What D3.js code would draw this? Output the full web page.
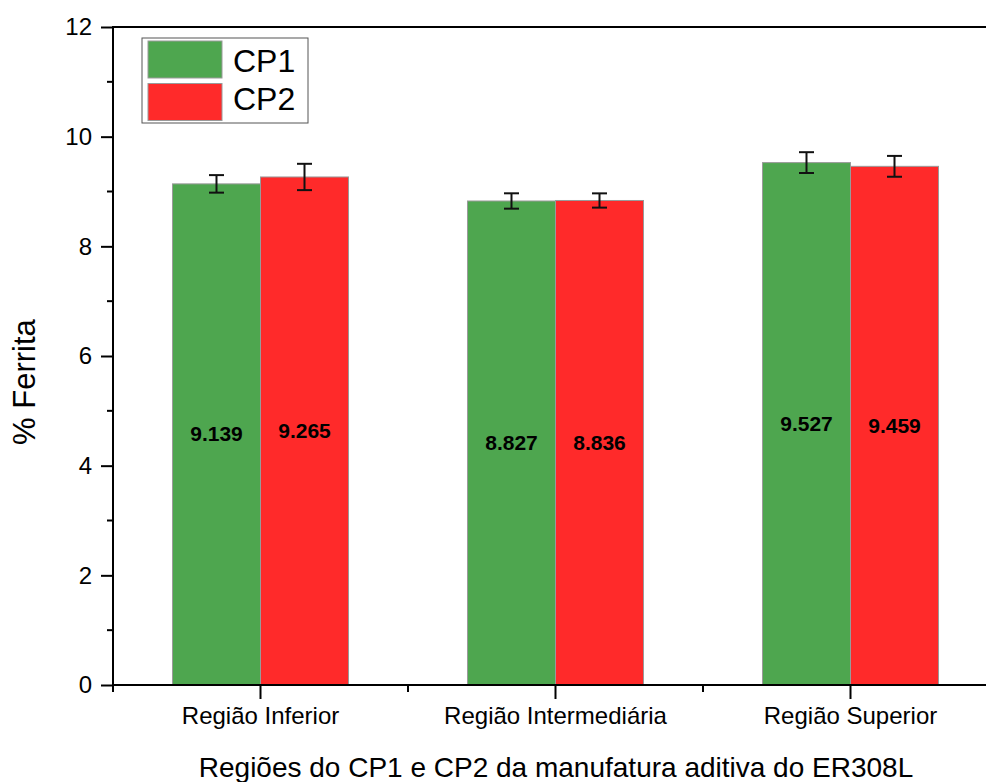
<!DOCTYPE html>
<html>
<head>
<meta charset="utf-8">
<script src="https://cdn.jsdelivr.net/npm/d3@7"></script>
<style>
  body { margin: 0; background: #fff; }
  svg { display: block; font-family: Arial, "Liberation Sans", sans-serif; }
</style>
</head>
<body>
<div id="chart"></div>
<script>
// data
var categories = ["Região Inferior", "Região Intermediária", "Região Superior"];
var series = ["CP1", "CP2"];
var cp1Values = [9.139, 8.827, 9.527];
var cp2Values = [9.265, 8.836, 9.459];
var cp1Errors = [0.16, 0.14, 0.19];
var cp2Errors = [0.24, 0.13, 0.19];
var yTicks = [0, 2, 4, 6, 8, 10, 12];
var yMinorTicks = [1, 3, 5, 7, 9, 11];
var colors = { CP1: "#4ea64f", CP2: "#ff2a2a" };

var W = 986, H = 782;
var plotLeft = 113, plotRight = 998, plotTop = 27, plotBottom = 685;

var rows = [];
categories.forEach(function (c, i) {
    rows.push({ cat: c, s: "CP1", v: cp1Values[i], e: cp1Errors[i] });
    rows.push({ cat: c, s: "CP2", v: cp2Values[i], e: cp2Errors[i] });
});

var svg = d3.select("#chart").append("svg")
    .attr("width", W)
    .attr("height", H);

var x0 = d3.scaleBand().domain(categories).range([plotLeft, plotRight]).padding(0);
var x1 = d3.scaleBand().domain(series).range([0, x0.bandwidth()]).paddingInner(0).paddingOuter(0.676);
var y = d3.scaleLinear().domain([0, 12]).range([plotBottom, plotTop]);

// bars
svg.append("g").selectAll("rect")
    .data(rows)
    .enter().append("rect")
    .attr("x", function (d) { return x0(d.cat) + x1(d.s); })
    .attr("y", function (d) { return y(d.v); })
    .attr("width", x1.bandwidth())
    .attr("height", function (d) { return y(0) - y(d.v); })
    .attr("fill", function (d) { return colors[d.s]; })
    .attr("stroke", "#9a9a9a")
    .attr("stroke-width", 1);

// error bars
var eb = svg.append("g").attr("stroke", "#111").attr("stroke-width", 2);
rows.forEach(function (d) {
    var cx = x0(d.cat) + x1(d.s) + x1.bandwidth() / 2;
    eb.append("line").attr("x1", cx).attr("x2", cx).attr("y1", y(d.v + d.e)).attr("y2", y(d.v - d.e));
    eb.append("line").attr("x1", cx - 7.5).attr("x2", cx + 7.5).attr("y1", y(d.v + d.e)).attr("y2", y(d.v + d.e));
    eb.append("line").attr("x1", cx - 7.5).attr("x2", cx + 7.5).attr("y1", y(d.v - d.e)).attr("y2", y(d.v - d.e));
});

// value labels at half height
svg.append("g").selectAll("text")
    .data(rows)
    .enter().append("text")
    .attr("x", function (d) { return x0(d.cat) + x1(d.s) + x1.bandwidth() / 2; })
    .attr("y", function (d) { return y(d.v / 2) + 7; })
    .attr("text-anchor", "middle")
    .style("font-size", "21px")
    .style("font-weight", "bold")
    .text(function (d) { return d.v.toFixed(3); });

// y axis
var yAxis = svg.append("g")
    .attr("transform", "translate(" + plotLeft + ",0)")
    .call(d3.axisLeft(y).tickValues(yTicks).tickSize(12).tickPadding(9).tickSizeOuter(0));
yAxis.select(".domain").remove();
yAxis.selectAll(".tick line").attr("stroke", "#000").attr("stroke-width", 2);
yAxis.selectAll(".tick text").style("font-size", "24px").attr("fill", "#000");
yMinorTicks.forEach(function (t) {
    yAxis.append("line").attr("x1", -6).attr("x2", 0).attr("y1", y(t)).attr("y2", y(t))
        .attr("stroke", "#000").attr("stroke-width", 2);
});
svg.append("line").attr("x1", plotLeft).attr("x2", plotLeft).attr("y1", plotTop - 1).attr("y2", plotBottom + 6)
    .attr("stroke", "#000").attr("stroke-width", 2);

// x axis
var xAxis = svg.append("g")
    .attr("transform", "translate(0," + plotBottom + ")")
    .call(d3.axisBottom(x0).tickSize(14).tickPadding(8).tickSizeOuter(0));
xAxis.select(".domain").remove();
xAxis.selectAll(".tick line").attr("stroke", "#000").attr("stroke-width", 2);
xAxis.selectAll(".tick text").style("font-size", "24px").attr("fill", "#000");
categories.forEach(function (c) {
    xAxis.append("line").attr("x1", x0(c)).attr("x2", x0(c)).attr("y1", 0).attr("y2", 7)
        .attr("stroke", "#000").attr("stroke-width", 2);
});
svg.append("line").attr("x1", plotLeft - 1).attr("x2", W).attr("y1", plotBottom).attr("y2", plotBottom)
    .attr("stroke", "#000").attr("stroke-width", 2);
// top frame
svg.append("line").attr("x1", plotLeft - 1).attr("x2", W).attr("y1", plotTop).attr("y2", plotTop)
    .attr("stroke", "#000").attr("stroke-width", 2);

// axis titles
svg.append("text")
    .attr("x", 556)
    .attr("y", 777)
    .attr("text-anchor", "middle")
    .style("font-size", "28px")
    .text("Regiões do CP1 e CP2 da manufatura aditiva do ER308L");

svg.append("text")
    .attr("transform", "translate(35,382)rotate(-90)")
    .attr("text-anchor", "middle")
    .style("font-size", "31px")
    .text("% Ferrita");

// legend
var lg = svg.append("g");
lg.append("rect").attr("x", 142).attr("y", 38).attr("width", 166).attr("height", 85)
    .attr("fill", "#fff").attr("stroke", "#555").attr("stroke-width", 1);
series.forEach(function (s, i) {
    lg.append("rect").attr("x", 148).attr("y", 41 + i * 42.5).attr("width", 74).attr("height", 37)
        .attr("fill", colors[s]).attr("stroke", "#9a9a9a").attr("stroke-width", 1);
    lg.append("text").attr("x", 233).attr("y", 72 + i * 38).style("font-size", "32px").text(s);
});
</script>
</body>
</html>
